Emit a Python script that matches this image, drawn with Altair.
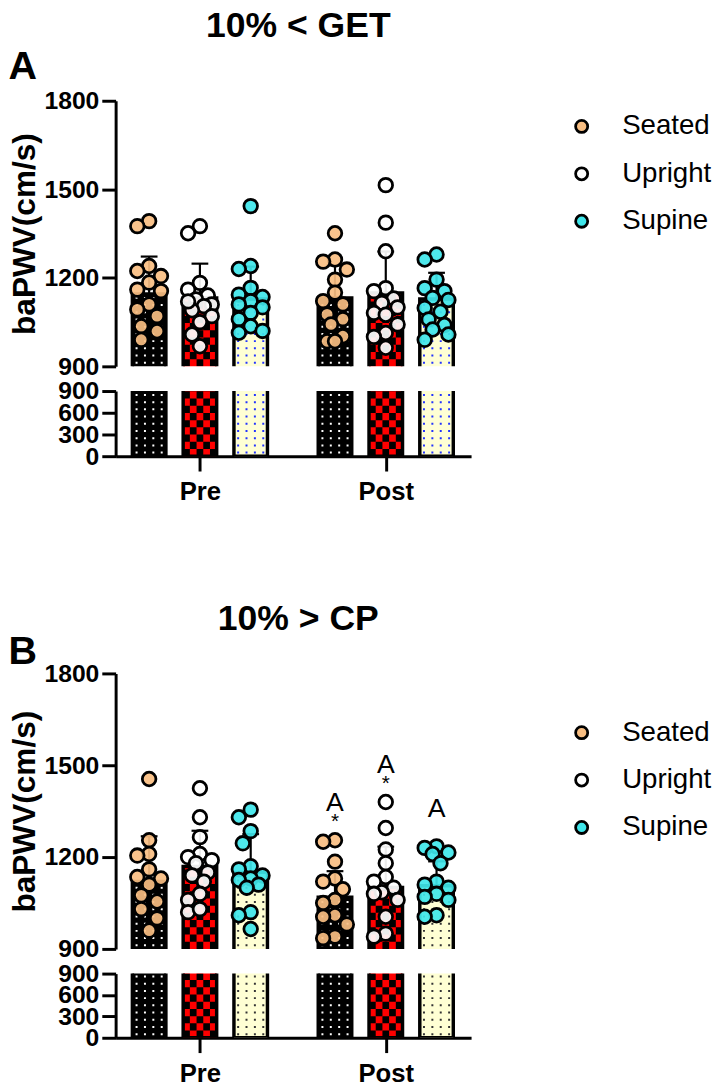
import math
import pandas as pd
import altair as alt

FONT = "Liberation Sans"

postures = ["Seated", "Upright", "Supine"]
times = ["Pre", "Post"]
point_colors = ["#F8BE82", "#FFFFFF", "#3FE6EA"]
bar_colors = ["#000000", "#FF0000", "#FFFFD4"]

# Panel A (10% < GET): individual baPWV values (cm/s)
a_seated_pre = [1392, 1375, 1240, 1223, 1206, 1184, 1160, 1155, 1110, 1093, 1070, 1036, 1019, 990]
a_upright_pre = [1375, 1351, 1183, 1160, 1140, 1127, 1110, 1104, 1090, 1070, 1050, 1008, 968, 1120]
a_supine_pre = [1443, 1240, 1230, 1166, 1143, 1135, 1121, 1110, 1100, 1081, 1060, 1036, 1014, 1020]
a_seated_post = [1351, 1262, 1255, 1228, 1194, 1150, 1121, 1110, 1076, 1060, 1042, 1002, 985, 985]
a_upright_post = [1514, 1387, 1290, 1165, 1155, 1130, 1115, 1100, 1081, 1075, 1042, 1013, 1000, 963]
a_supine_post = [1279, 1262, 1194, 1165, 1155, 1132, 1125, 1098, 1085, 1059, 1040, 1025, 1008, 990]
a_mean_pre = [1145, 1132, 1128]
a_mean_post = [1132, 1149, 1128]
a_sd_pre = [127, 116, 110]
a_sd_post = [110, 140, 89]

# Panel B (10% > CP)
b_seated_pre = [1455, 1255, 1210, 1205, 1160, 1135, 1130, 1110, 1075, 1055, 1030, 960, 1000]
b_upright_pre = [1425, 1330, 1265, 1210, 1200, 1190, 1180, 1150, 1140, 1120, 1080, 1060, 1020, 1030]
b_supine_pre = [1355, 1330, 1285, 1245, 1170, 1160, 1140, 1130, 1125, 1110, 1100, 1020, 1010, 965]
b_seated_post = [1255, 1250, 1185, 1130, 1120, 1095, 1060, 1050, 1010, 1005, 980, 940, 935]
b_upright_post = [1380, 1295, 1225, 1180, 1135, 1120, 1100, 1085, 1080, 1060, 1005, 950, 940]
b_supine_post = [1235, 1230, 1215, 1210, 1180, 1120, 1110, 1100, 1080, 1070, 1060, 1010, 1005]
b_mean_pre = [1120, 1169, 1150]
b_mean_post = [1069, 1101, 1106]
b_sd_pre = [148, 117, 125]
b_sd_post = [85, 133, 80]
b_post_letters = ["A", "A", "A"]
b_post_stars = ["*", "*", ""]

# layout constants
W = 360
X_MAX = 7.0
XPU = W / X_MAX
GROUP_X = {"Pre": 1.66, "Post": 5.32}
SHIFT = {"Seated": -1.0, "Upright": 0.0, "Supine": 1.0}
HALF = 0.33
CAP = 0.165


def swarm(vals, ypu):
    order = sorted(range(len(vals)), key=lambda i: -vals[i])
    placed, out = [], [0.0] * len(vals)
    for i in order:
        y = vals[i] * ypu
        best, best_d = 0.0, -1.0
        for c in (0, -8, 8, -4, 4, -12, 12):
            d = min((math.hypot(c - px, y - py) for px, py in placed), default=99.0)
            if d >= 13:
                best = c
                break
            if d > best_d:
                best_d, best = d, c
        placed.append((best, y))
        out[i] = best / XPU
    return out


def y_axis(values, title=None):
    kw = dict(values=values, format="d", grid=False, labelFont=FONT, labelFontSize=25, labelFontWeight="bold",
              labelColor="black", labelPadding=3, labelOverlap=False, labelFlush=False,
              tickSize=14, tickWidth=3, tickColor="black", domainWidth=3, domainColor="black")
    if title:
        kw.update(title=title, titleFont=FONT, titleFontSize=32, titleFontWeight="bold",
                  titleColor="black", titlePadding=3)
    else:
        kw.update(title=None)
    return alt.Axis(**kw)


X_AXIS = alt.Axis(values=[GROUP_X["Pre"], GROUP_X["Post"]],
                  labelExpr="datum.value < 3 ? 'Pre' : 'Post'", title=None, grid=False,
                  labelFont=FONT, labelFontSize=26, labelFontWeight="bold", labelColor="black",
                  labelPadding=8, labelFlush=False, tickSize=15, tickWidth=3, tickColor="black",
                  domainWidth=3, domainColor="black")
UP_Y_AXIS = y_axis([900, 1200, 1500, 1800], "baPWV(cm/s)")
LOW_Y_AXIS = y_axis([0, 300, 600, 900])


def make_xy(dom, x_axis, y_ax):
    def X(field):
        return alt.X(field, type="quantitative", scale=alt.Scale(domain=[0, X_MAX], nice=False, zero=False),
                     axis=x_axis)

    def Y(field):
        return alt.Y(field, type="quantitative", scale=alt.Scale(domain=dom, nice=False, zero=False),
                     axis=y_ax)

    def YD(val):
        return alt.Y(datum=val, scale=alt.Scale(domain=dom, nice=False, zero=False), axis=y_ax)
    return X, Y, YD


def pattern_layers(bars, step, dom, top_expr, dot_col, X, Y):
    base = alt.Chart(bars)
    dots = base.transform_filter("datum.posture != 'Upright'").transform_calculate(
        r="sequence(0, 40)").transform_flatten(["r"]).transform_calculate(
        c="sequence(0, 4)").transform_flatten(["c"]).transform_calculate(
        dx="datum.left + (datum.c + 0.5) * (datum.right - datum.left) / 4",
        dy=f"{dom[0]} + (datum.r + 0.5) * {step}",
        ptop=top_expr,
    ).transform_filter(f"datum.dy < datum.ptop - {step * 0.3}").mark_square(size=4, opacity=1, clip=True).encode(
        x=X("dx"), y=Y("dy"),
        fill=alt.condition(alt.datum.posture == "Seated", alt.value("white"), alt.value(dot_col)),
    )
    checks = base.transform_filter("datum.posture == 'Upright'").transform_calculate(
        r="sequence(0, 40)").transform_flatten(["r"]).transform_calculate(
        c="sequence(0, 5)").transform_flatten(["c"]).transform_calculate(
        ptop=top_expr,
        x0="datum.left + datum.c * (datum.right - datum.left) / 5",
        x1="datum.left + (datum.c + 1) * (datum.right - datum.left) / 5",
        y0=f"{dom[0]} + datum.r * {step}",
    ).transform_calculate(
        y1=f"min(datum.y0 + {step}, datum.ptop)"
    ).transform_filter("(datum.r + datum.c) % 2 == 0 && datum.y0 < datum.ptop").mark_rect(
        color="black", opacity=1, clip=True).encode(
        x=X("x0"), x2="x1:Q", y=Y("y0"), y2="y1:Q")
    return dots, checks


def build_panel(title, letter, pts, means, sds, up_h, low_h, dot_col, legend_y, letter_y, title_offset,
                letters=None, stars=None):
    rows, bars = [], []
    ypu = up_h / 900.0
    for t in times:
        for k, p in enumerate(postures):
            pos = GROUP_X[t] + SHIFT[p]
            vals = pts[(t, p)]
            for v, j in zip(vals, swarm(vals, ypu)):
                rows.append(dict(time=t, posture=p, value=v, xj=pos + j))
            m, s = means[t][k], sds[t][k]
            bars.append(dict(time=t, posture=p, mean=m, sd=s, pos=pos, left=pos - HALF, right=pos + HALF,
                             top=m + s, capl=pos - CAP, capr=pos + CAP, vmax=max(vals)))
    pts_df = pd.DataFrame(rows)
    bars_df = pd.DataFrame(bars)
    bar_fill = alt.Fill("posture:N", scale=alt.Scale(domain=postures, range=bar_colors), legend=None)

    # upper segment 900-1800
    X, Y, YD = make_xy([900, 1800], None, UP_Y_AXIS)
    base = alt.Chart(bars_df)
    up_fill = base.mark_rect(clip=True, opacity=1).encode(
        x=X("left"), x2="right:Q", y=Y("mean"), y2=alt.datum(860), fill=bar_fill)
    up_dots, up_checks = pattern_layers(bars_df, 900.0 / up_h * 7.3, [900, 1800], "datum.mean", dot_col, X, Y)
    up_line = base.mark_rect(clip=True, fillOpacity=0, stroke="black", strokeWidth=3.5).encode(
        x=X("left"), x2="right:Q", y=Y("mean"), y2=alt.datum(860))
    err = base.mark_rule(color="black", strokeWidth=2.2).encode(x=X("pos"), y=Y("mean"), y2="top:Q")
    cap = base.mark_rule(color="black", strokeWidth=2.2).encode(x=X("capl"), x2="capr:Q", y=Y("top"))
    points = alt.Chart(pts_df).mark_point(
        filled=True, size=190, opacity=1, fillOpacity=0.92, stroke="black", strokeWidth=2.8).encode(
        x=X("xj"), y=Y("value"),
        color=alt.Color("posture:N", scale=alt.Scale(domain=postures, range=point_colors),
                        legend=alt.Legend(title=None, orient="none", legendX=458, legendY=legend_y,
                                          direction="vertical", symbolType="circle", symbolSize=150,
                                          symbolStrokeColor="black", symbolStrokeWidth=2.8,
                                          symbolOpacity=1, labelFont=FONT, labelFontSize=28,
                                          labelColor="black", labelOffset=27, rowPadding=20, padding=0)))
    letter_mark = alt.Chart(pd.DataFrame({"t": [letter]})).mark_text(
        font=FONT, fontSize=40, fontWeight="bold", align="center", baseline="middle", color="black").encode(
        x=alt.value(-94), y=alt.value(letter_y), text="t:N")
    layers = [up_fill, up_dots, up_checks, up_line, err, cap, points, letter_mark]
    if letters:
        note_df = bars_df[bars_df.time == "Post"].copy()
        note_df["letter"] = letters
        note_df["star"] = stars
        note_df["ly"] = note_df["vmax"] + 122
        note_df["sy"] = note_df["vmax"] + 58
        nb = alt.Chart(note_df)
        layers.append(nb.mark_text(font=FONT, fontSize=27, color="black", baseline="middle").encode(
            x=X("pos"), y=Y("ly"), text="letter:N"))
        layers.append(nb.mark_text(font=FONT, fontSize=21, color="black", baseline="middle").encode(
            x=X("pos"), y=Y("sy"), text="star:N"))
    upper = alt.layer(*layers).properties(
        width=W, height=up_h,
        title=alt.TitleParams(title, font=FONT, fontSize=36, fontWeight="bold", color="black",
                              anchor="middle", offset=title_offset, dx=5))

    # lower segment 0-900
    X, Y, YD = make_xy([0, 900], X_AXIS, LOW_Y_AXIS)
    low_fill = base.mark_rect(clip=True, opacity=1).encode(
        x=X("left"), x2="right:Q", y=YD(960), y2=alt.datum(0), fill=bar_fill)
    low_dots, low_checks = pattern_layers(bars_df, 900.0 / low_h * 7.3, [0, 900], "900", dot_col, X, Y)
    low_line = base.mark_rect(clip=True, fillOpacity=0, stroke="black", strokeWidth=3.5).encode(
        x=X("left"), x2="right:Q", y=YD(960), y2=alt.datum(0))
    lower = alt.layer(low_fill, low_dots, low_checks, low_line).properties(width=W, height=low_h)
    return alt.vconcat(upper, lower, spacing=0).resolve_scale(color="independent")


pts_a = {("Pre", "Seated"): a_seated_pre, ("Pre", "Upright"): a_upright_pre, ("Pre", "Supine"): a_supine_pre,
         ("Post", "Seated"): a_seated_post, ("Post", "Upright"): a_upright_post, ("Post", "Supine"): a_supine_post}
pts_b = {("Pre", "Seated"): b_seated_pre, ("Pre", "Upright"): b_upright_pre, ("Pre", "Supine"): b_supine_pre,
         ("Post", "Seated"): b_seated_post, ("Post", "Upright"): b_upright_post, ("Post", "Supine"): b_supine_post}

panel_a = build_panel("10% < GET", "A", pts_a, {"Pre": a_mean_pre, "Post": a_mean_post},
                      {"Pre": a_sd_pre, "Post": a_sd_post}, 269, 66, "#2233FF", 12, -34, 3)
panel_b = build_panel("10% > CP", "B", pts_b, {"Pre": b_mean_pre, "Post": b_mean_post},
                      {"Pre": b_sd_pre, "Post": b_sd_post}, 279, 65, "#333333", 46, -22, -6,
                      letters=b_post_letters, stars=b_post_stars)

chart = alt.vconcat(panel_a, panel_b, spacing=98).resolve_scale(color="independent").configure_view(
    stroke=None).properties(padding={"left": 0, "top": -7, "right": 0, "bottom": 0})

chart.save("out.html", embed_options={"renderer": "svg", "actions": False})
